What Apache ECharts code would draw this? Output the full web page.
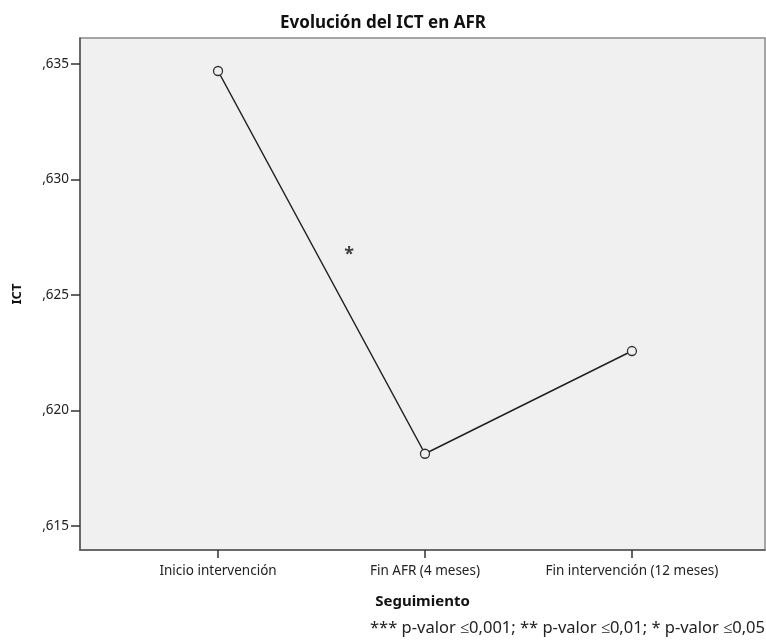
<!DOCTYPE html>
<html>
<head>
<meta charset="utf-8">
<script src="https://cdn.jsdelivr.net/npm/echarts@6/dist/echarts.min.js"></script>
<style>
  html, body { margin: 0; padding: 0; background: #fff; }
  #chart { width: 766px; height: 644px; }
</style>
</head>
<body>
<div id="chart"></div>
<script>
// categorias del eje X (posiciones 0, 1, 2)
var categorias = ['Inicio intervención', 'Fin AFR (4 meses)', 'Fin intervención (12 meses)']
var valoresICT = [0.6347, 0.61812, 0.62257]
var ticksY = [0.615, 0.620, 0.625, 0.630, 0.635]
// asterisco de significacion (x en unidades de categoria, y en ICT)
var anotaciones = [[0.633, 0.62672, '*']]

var chart = echarts.init(document.getElementById('chart'))
var fuente = 'Noto Sans'

chart.setOption({
  animation: false,
  title: {
    text: 'Evolución del ICT en AFR',
    left: 'center',
    top: 10,
    textStyle: { fontFamily: fuente, fontSize: 17, fontWeight: 'bold', color: '#111' }
  },
  grid: {
    left: 80,
    right: 1,
    top: 38,
    bottom: 94,
    show: true,
    backgroundColor: '#f0f0f0',
    borderColor: '#8a8a8a',
    borderWidth: 1.5
  },
  xAxis: {
    type: 'value',
    min: -0.667,
    max: 2.643,
    name: 'Seguimiento',
    nameLocation: 'middle',
    nameGap: 44,
    nameTextStyle: { fontFamily: fuente, fontSize: 15, fontWeight: 'bold', color: '#111' },
    splitLine: { show: false },
    axisLine: { onZero: false, lineStyle: { color: '#555', width: 1.5 } },
    axisTick: { customValues: [0, 1, 2], length: 8, lineStyle: { color: '#333', width: 1.5 } },
    axisLabel: {
      customValues: [0, 1, 2],
      margin: 14,
      fontFamily: fuente,
      fontSize: 13.5,
      color: '#222',
      formatter: function (v) { return categorias[Math.round(v)] }
    }
  },
  yAxis: {
    type: 'value',
    min: 0.61395,
    max: 0.63613,
    name: 'ICT',
    nameLocation: 'middle',
    nameGap: 56,
    nameTextStyle: { fontFamily: fuente, fontSize: 13, fontWeight: 'bold', color: '#111' },
    splitLine: { show: false },
    axisLine: { show: true, onZero: false, lineStyle: { color: '#555', width: 1.5 } },
    axisTick: { show: true, customValues: ticksY, length: 9, lineStyle: { color: '#333', width: 1.5 } },
    axisLabel: {
      customValues: ticksY,
      margin: 11,
      fontFamily: fuente,
      fontSize: 13.5,
      color: '#222',
      formatter: function (v) { return v.toFixed(3).replace('0.', ',') }
    }
  },
  graphic: [{
    type: 'text',
    right: 1,
    bottom: 7,
    style: {
      text: '*** p-valor ≤0,001; ** p-valor ≤0,01; * p-valor ≤0,05',
      fontFamily: fuente,
      fontSize: 16.5,
      fill: '#222'
    }
  }],
  series: [
    {
      type: 'line',
      data: valoresICT.map(function (v, i) { return [i, v] }),
      symbol: 'circle',
      symbolSize: 9,
      lineStyle: { color: '#222', width: 1.5 },
      itemStyle: { color: '#f0f0f0', borderColor: '#333', borderWidth: 1.3 }
    },
    {
      type: 'scatter',
      data: anotaciones,
      symbolSize: 0,
      label: {
        show: true,
        position: 'inside',
        formatter: function (p) { return p.data[2] },
        fontFamily: fuente,
        fontSize: 18,
        fontWeight: 'bold',
        color: '#111'
      }
    }
  ]
})
</script>
</body>
</html>
